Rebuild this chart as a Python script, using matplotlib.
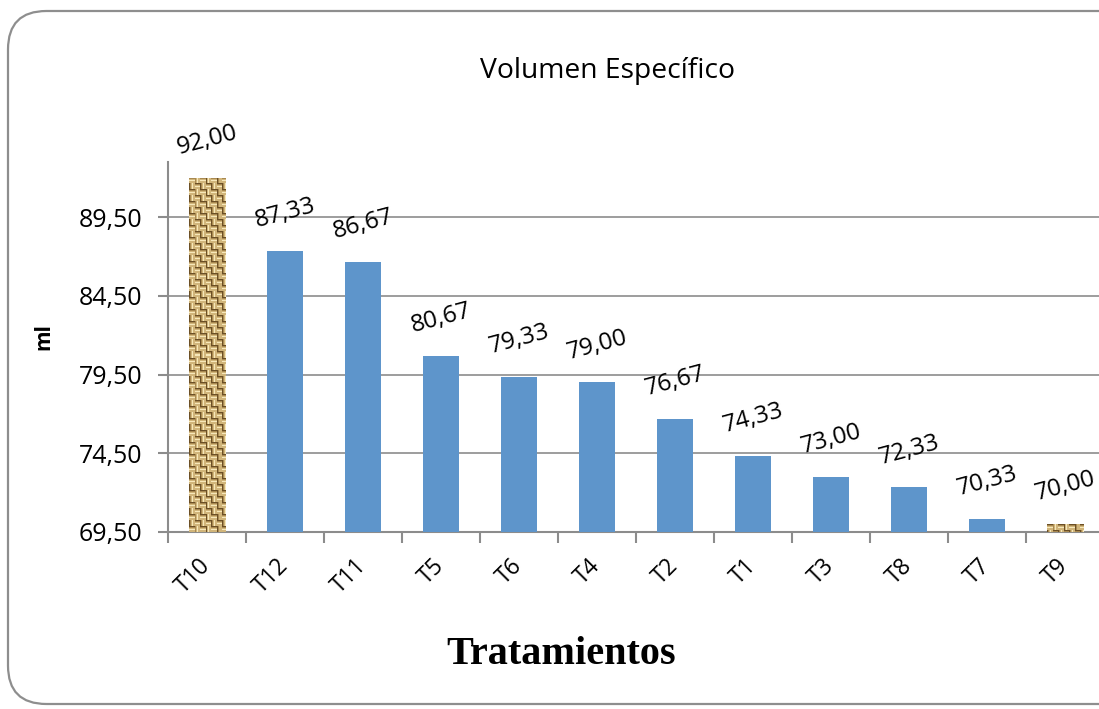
import numpy as np
import matplotlib
matplotlib.use("Agg")
import matplotlib.pyplot as plt
from matplotlib.patches import FancyBboxPatch

plt.rcParams['font.family'] = ['Open Sans', 'DejaVu Sans']

tratamientos = ["T10", "T12", "T11", "T5", "T6", "T4", "T2", "T1", "T3", "T8", "T7", "T9"]
volumen = [92.00, 87.33, 86.67, 80.67, 79.33, 79.00, 76.67, 74.33, 73.00, 72.33, 70.33, 70.00]
yticks = [69.5, 74.5, 79.5, 84.5, 89.5]
textured = {"T10", "T9"}

BLUE = "#5E95CB"
GRAY = "#8C8C8C"

fig = plt.figure(figsize=(10.99, 7.09), dpi=100)

# rounded chart frame
frame = FancyBboxPatch((8 / 1099, 5 / 709), 1.2, 1 - 16 / 709,
                       boxstyle="round,pad=0,rounding_size=0.035",
                       transform=fig.transFigure, fill=False,
                       edgecolor="#8E8E8E", linewidth=1.6, clip_on=False,
                       mutation_aspect=1099 / 709)
fig.patches.append(frame)

ax = fig.add_axes([168 / 1099, 1 - 532 / 709, 936 / 1099, 370 / 709])
x = np.arange(len(tratamientos))

bars = ax.bar(x, [v - 69.5 for v in volumen], bottom=69.5, width=0.47,
              color=BLUE, zorder=3)


def weave_texture(h=400, w=40, s=6):
    """Burlap-like woven texture built from a regular basket pattern."""
    yy, xx = np.mgrid[0:h, 0:w]
    base = np.array([0.82, 0.71, 0.48])
    dark = np.array([0.42, 0.31, 0.15])
    mid = np.array([0.66, 0.54, 0.32])
    light = np.array([0.97, 0.91, 0.73])
    cell = ((yy // s) + (xx // s)) % 2
    img = np.ones((h, w, 3)) * base
    # horizontal threads in one set of cells, vertical in the other
    img[(cell == 0) & (yy % s == 0)] = dark
    img[(cell == 0) & (yy % s == 1)] = mid
    img[(cell == 0) & (yy % s == 3)] = light
    img[(cell == 1) & (xx % s == 0)] = dark
    img[(cell == 1) & (xx % s == 1)] = mid
    img[(cell == 1) & (xx % s == 3)] = light
    return img


tex = weave_texture()
for b, name in zip(bars, tratamientos):
    if name in textured:
        b.set_facecolor("none")
        x0, y0 = b.get_x(), b.get_y()
        x1, y1 = x0 + b.get_width(), y0 + b.get_height()
        rows = max(2, int(round((y1 - y0) * 15.75)))
        im = ax.imshow(tex[:rows], extent=(x0, x1, y0, y1), aspect="auto",
                       interpolation="nearest", zorder=3)
        im.set_clip_path(b)

ax.set_xlim(-0.5, len(tratamientos) - 0.5)
ax.set_ylim(69.5, 93.0)

for xi, v in zip(x, volumen):
    ax.annotate(f"{v:.2f}".replace(".", ","), (xi, v), xytext=(0, 27),
                textcoords="offset points", ha="center", va="center",
                rotation=15, fontsize=17.5, color="black", zorder=4)

ax.set_yticks(yticks)
ax.set_yticklabels([f"{t:.2f}".replace(".", ",") for t in yticks], fontsize=18)
ax.yaxis.grid(True, color=GRAY, linewidth=1.2, zorder=0)
ax.set_axisbelow(True)

ax.set_xticks(x)
ax.set_xticklabels(tratamientos, rotation=45, ha="right", va="center",
                   rotation_mode="anchor", fontsize=16.5)
ax.tick_params(axis="x", length=0, pad=22)
ax.set_xticks(np.arange(len(tratamientos) + 1) - 0.5, minor=True)
ax.tick_params(axis="x", which="minor", length=8, color=GRAY, width=1.5)
ax.tick_params(axis="y", length=7, color=GRAY, width=1.5, pad=11.5)

for s in ("top", "right"):
    ax.spines[s].set_visible(False)
for s in ("left", "bottom"):
    ax.spines[s].set_color(GRAY)
    ax.spines[s].set_linewidth(1.5)

fig.text(607 / 1099, 1 - 71 / 709, "Volumen Específico", ha="center",
         va="center", fontsize=20.3)
fig.text(44 / 1099, 1 - 337 / 709, "ml", ha="center", va="center",
         rotation=90, fontsize=15, fontweight="bold")
fig.text(561 / 1099, 1 - 655 / 709, "Tratamientos", ha="center",
         va="center", fontsize=29, fontweight="bold",
         family=["Liberation Serif", "DejaVu Serif"])

fig.savefig("out.png", dpi=100)
